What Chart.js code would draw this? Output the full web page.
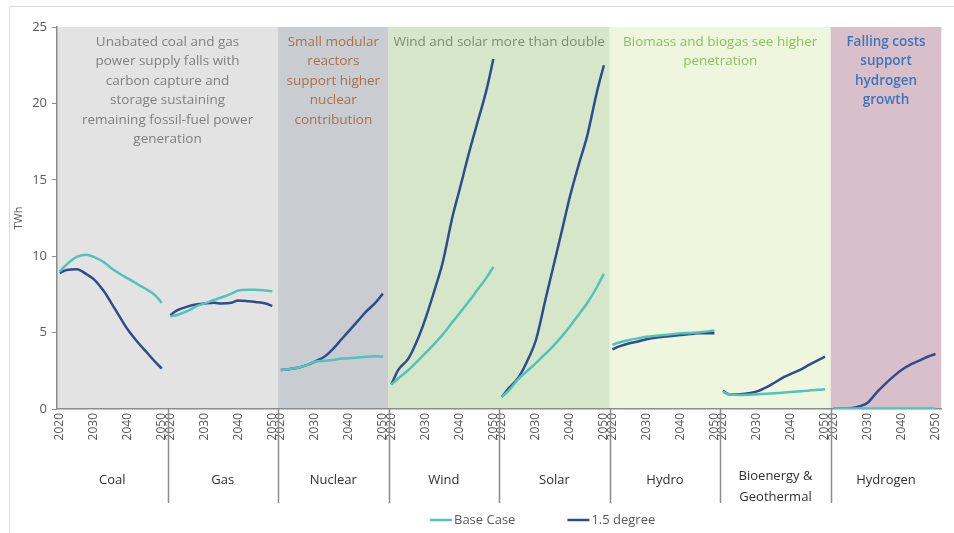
<!DOCTYPE html>
<html>
<head>
<meta charset="utf-8">
<script src="https://cdn.jsdelivr.net/npm/chart.js@4.4.1/dist/chart.umd.min.js"></script>
<style>
html, body { margin: 0; padding: 0; background: #fff; }
#wrap { width: 954px; height: 533px; }
</style>
</head>
<body>
<div id="wrap"><canvas id="chart" width="954" height="533"></canvas></div>
<script>
// one panel per technology
var categories = ['Coal', 'Gas', 'Nuclear', 'Wind', 'Solar', 'Hydro', ['Bioenergy &', 'Geothermal'], 'Hydrogen'];
var years = [2020, 2022, 2025, 2028, 2030, 2033, 2035, 2038, 2040, 2043, 2045, 2048, 2050];
var tickYears = [2020, 2030, 2040, 2050];
var yTicks = [0, 5, 10, 15, 20, 25];

// Base Case (TWh)
var baseCoal     = [9.0, 9.45, 9.95, 10.1, 9.95, 9.6, 9.25, 8.8, 8.55, 8.15, 7.9, 7.45, 6.95];
var baseGas      = [6.05, 6.15, 6.4, 6.75, 6.9, 7.15, 7.3, 7.55, 7.75, 7.8, 7.8, 7.75, 7.7];
var baseNuclear  = [2.55, 2.6, 2.7, 2.9, 3.1, 3.15, 3.2, 3.3, 3.32, 3.38, 3.42, 3.45, 3.42];
var baseWind     = [1.6, 2.0, 2.55, 3.2, 3.65, 4.35, 4.85, 5.7, 6.25, 7.1, 7.7, 8.6, 9.3];
var baseSolar    = [0.8, 1.2, 2.0, 2.6, 3.0, 3.65, 4.1, 4.85, 5.4, 6.3, 6.9, 8.0, 8.85];
var baseHydro    = [4.2, 4.35, 4.52, 4.65, 4.73, 4.8, 4.84, 4.9, 4.95, 4.98, 5.0, 5.08, 5.13];
var baseBio      = [1.13, 0.95, 0.92, 0.94, 0.96, 1.0, 1.03, 1.08, 1.11, 1.16, 1.2, 1.26, 1.29];
var baseHydrogen = [0.04, 0.04, 0.04, 0.04, 0.04, 0.04, 0.04, 0.04, 0.04, 0.04, 0.04, 0.04, 0.04];

// 1.5 degree (TWh)
var degCoal     = [8.9, 9.1, 9.15, 8.8, 8.5, 7.7, 7.0, 5.9, 5.2, 4.35, 3.85, 3.1, 2.65];
var degGas      = [6.15, 6.45, 6.7, 6.85, 6.9, 6.95, 6.9, 6.95, 7.1, 7.05, 7.0, 6.9, 6.75];
var degNuclear  = [2.55, 2.6, 2.7, 2.9, 3.1, 3.45, 3.85, 4.6, 5.1, 5.85, 6.35, 7.0, 7.55];
var degWind     = [1.6, 2.55, 3.3, 4.7, 5.9, 8.0, 9.5, 12.6, 14.3, 16.9, 18.5, 20.9, 22.9];
var degSolar    = [0.8, 1.35, 2.1, 3.4, 4.5, 7.35, 9.2, 12.0, 13.9, 16.3, 17.8, 20.8, 22.5];
var degHydro    = [3.9, 4.1, 4.3, 4.45, 4.56, 4.68, 4.73, 4.8, 4.84, 4.9, 4.95, 4.95, 4.95];
var degBio      = [1.18, 0.95, 0.97, 1.05, 1.15, 1.45, 1.7, 2.1, 2.3, 2.6, 2.85, 3.2, 3.42];
var degHydrogen = [0.02, 0.03, 0.05, 0.2, 0.41, 1.15, 1.6, 2.2, 2.55, 2.95, 3.15, 3.45, 3.6];

var baseSeries = [baseCoal, baseGas, baseNuclear, baseWind, baseSolar, baseHydro, baseBio, baseHydrogen];
var degSeries = [degCoal, degGas, degNuclear, degWind, degSolar, degHydro, degBio, degHydrogen];

// shaded groups of panels with their notes
var bands = [
    { from: 0, to: 2, fill: '#e3e3e3', color: '#808080', bold: false,
      text: ['Unabated coal and gas', 'power supply falls with', 'carbon capture and', 'storage sustaining', 'remaining fossil-fuel power', 'generation'] },
    { from: 2, to: 3, fill: '#c9ccd1', color: '#a9704c', bold: false,
      text: ['Small modular', 'reactors', 'support higher', 'nuclear', 'contribution'] },
    { from: 3, to: 5, fill: '#d6e7c9', color: '#7d8c73', bold: false,
      text: ['Wind and solar more than double'] },
    { from: 5, to: 7, fill: '#eef6dd', color: '#8fbf5f', bold: false,
      text: ['Biomass and biogas see higher', 'penetration'] },
    { from: 7, to: 8, fill: '#d8bfc9', color: '#3d75ba', bold: true,
      text: ['Falling costs', 'support', 'hydrogen', 'growth'] }
];

var W = 32.5;   // x units per panel
var FONT = "'Open Sans', sans-serif";

function xPos(p, yr) {
    return p * W + 0.8 + (yr - 2020);
}

function buildPoints(series) {
    var pts = [];
    series.forEach(function(vals, p) {
        years.forEach(function(yr, i) {
            pts.push({ x: xPos(p, yr), y: vals[i] });
        });
        pts.push({ x: p * W + W - 0.5, y: null });   // break between panels
    });
    return pts;
}

var panelPlugin = {
    id: 'panels',
    beforeDraw: function(chart) {
        var ctx = chart.ctx, a = chart.chartArea, xs = chart.scales.x;
        ctx.save();
        bands.forEach(function(b) {
            var x1 = xs.getPixelForValue(b.from * W);
            var x2 = xs.getPixelForValue(b.to * W);
            ctx.fillStyle = b.fill;
            ctx.fillRect(x1, a.top, x2 - x1, a.bottom - a.top);
        });
        // faint frame of the original picture
        ctx.strokeStyle = '#dcdcdc';
        ctx.lineWidth = 1;
        ctx.beginPath();
        ctx.moveTo(9.5, 533);
        ctx.lineTo(9.5, 6.5);
        ctx.lineTo(954, 6.5);
        ctx.stroke();
        ctx.restore();
    },
    beforeDatasetsDraw: function(chart) {
        var ctx = chart.ctx, a = chart.chartArea, xs = chart.scales.x;
        ctx.save();
        ctx.textAlign = 'center';
        ctx.textBaseline = 'middle';
        bands.forEach(function(b) {
            var cx = (xs.getPixelForValue(b.from * W) + xs.getPixelForValue(b.to * W)) / 2;
            ctx.fillStyle = b.color;
            ctx.font = (b.bold ? '600 ' : '') + '13.5px ' + FONT;
            b.text.forEach(function(line, i) {
                ctx.fillText(line, cx, a.top + 15 + i * 19.5);
            });
        });
        ctx.restore();
    },
    afterDraw: function(chart) {
        var ctx = chart.ctx, a = chart.chartArea, xs = chart.scales.x;
        ctx.save();
        // panel dividers below the axis
        ctx.strokeStyle = '#8c8c8c';
        ctx.lineWidth = 1.5;
        for (var p = 1; p < categories.length; p++) {
            var x = Math.round(xs.getPixelForValue(p * W)) + 0.5;
            ctx.beginPath();
            ctx.moveTo(x, a.bottom);
            ctx.lineTo(x, 503);
            ctx.stroke();
        }
        // category names
        ctx.fillStyle = '#303030';
        ctx.font = '13px ' + FONT;
        ctx.textAlign = 'center';
        ctx.textBaseline = 'middle';
        categories.forEach(function(c, p) {
            var cx = xs.getPixelForValue(p * W + W / 2);
            if (Array.isArray(c)) {
                ctx.fillText(c[0], cx, 476);
                ctx.fillText(c[1], cx, 497);
            } else {
                ctx.fillText(c, cx, 480);
            }
        });
        // legend
        ctx.font = '13px ' + FONT;
        ctx.textAlign = 'left';
        ctx.fillStyle = '#595959';
        var lx = 430, ly = 520;
        chart.data.datasets.forEach(function(ds) {
            ctx.strokeStyle = ds.borderColor;
            ctx.lineWidth = 2.5;
            ctx.beginPath();
            ctx.moveTo(lx, ly);
            ctx.lineTo(lx + 22, ly);
            ctx.stroke();
            ctx.fillText(ds.label, lx + 24, ly);
            lx += 24 + ctx.measureText(ds.label).width + 52;
        });
        ctx.restore();
    }
};

Chart.defaults.font.family = FONT;
Chart.defaults.color = '#595959';

var ctx = document.getElementById('chart').getContext('2d');
window.chart = new Chart(ctx, {
    type: 'line',
    data: {
        datasets: [
            {
                label: 'Base Case',
                data: buildPoints(baseSeries),
                borderColor: '#52c3bb',
                borderWidth: 2.5,
                pointRadius: 0,
                cubicInterpolationMode: 'monotone',
                spanGaps: false
            },
            {
                label: '1.5 degree',
                data: buildPoints(degSeries),
                borderColor: '#2f4d8e',
                borderWidth: 2.5,
                pointRadius: 0,
                cubicInterpolationMode: 'monotone',
                spanGaps: false
            }
        ]
    },
    options: {
        responsive: false,
        animation: false,
        layout: { padding: { top: 27, right: 12, left: 0, bottom: 0 } },
        plugins: {
            legend: { display: false },
            tooltip: { enabled: false }
        },
        scales: {
            x: {
                type: 'linear',
                min: 0,
                max: categories.length * W,
                grid: { display: true, drawOnChartArea: false, drawTicks: false },
                border: { display: true, color: '#8c8c8c', width: 1.5 },
                afterBuildTicks: function(scale) {
                    var t = [];
                    categories.forEach(function(c, p) {
                        tickYears.forEach(function(yr) { t.push({ value: xPos(p, yr) }); });
                    });
                    scale.ticks = t;
                },
                afterFit: function(scale) { scale.height = 124; },
                ticks: {
                    autoSkip: false,
                    minRotation: 90,
                    maxRotation: 90,
                    padding: 4,
                    font: { size: 12 },
                    color: '#595959',
                    callback: function(value, index) {
                        return String(tickYears[index % tickYears.length]);
                    }
                }
            },
            y: {
                min: 0,
                max: 25,
                afterBuildTicks: function(scale) {
                    scale.ticks = yTicks.map(function(v) { return { value: v }; });
                },
                afterFit: function(scale) { scale.width = 57; },
                grid: { display: true, drawOnChartArea: false, drawTicks: true, tickLength: 5, color: '#8c8c8c' },
                border: { display: true, color: '#8c8c8c', width: 1.5 },
                ticks: { padding: 5, font: { size: 13 }, color: '#595959' },
                title: { display: true, text: 'TWh', font: { size: 11 }, color: '#595959', padding: { top: 12, bottom: 0 } }
            }
        }
    },
    plugins: [panelPlugin]
});
</script>
</body>
</html>
